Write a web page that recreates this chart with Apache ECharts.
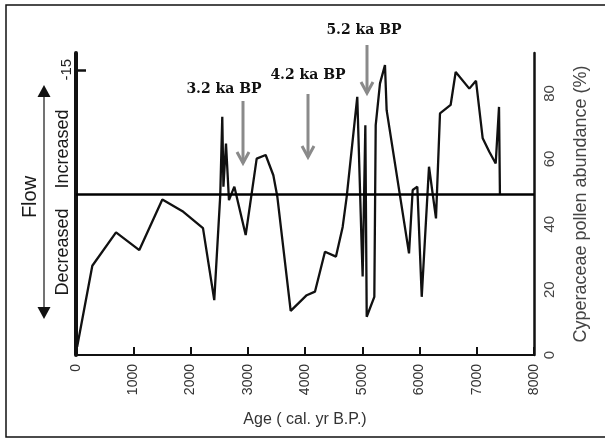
<!DOCTYPE html>
<html>
<head>
<meta charset="utf-8">
<script src="https://cdn.jsdelivr.net/npm/echarts@6/dist/echarts.min.js"></script>
<style>
  html, body { margin: 0; padding: 0; background: #fff; }
  #chart { width: 605px; height: 439px; }
</style>
</head>
<body>
<div id="chart"></div>
<script>
// age (cal. yr B.P.) and Cyperaceae pollen abundance (%)
var ages = [20, 285, 699, 1106, 1508, 1875, 2218, 2415, 2520, 2555, 2575, 2620, 2672, 2766, 2964,
  3156, 3313, 3447, 3517, 3750, 4030, 4175, 4349, 4541, 4658, 4728, 4913, 4990, 5007, 5054,
  5078, 5211, 5235, 5310, 5397, 5426, 5817, 5881, 5962, 6039, 6166, 6288, 6358, 6544, 6632,
  6870, 6987, 7104, 7219, 7331, 7389, 7405];
var pollen = [2.5, 27.3, 37.5, 32.1, 47.6, 43.8, 38.8, 16.8, 49, 72.9, 51.5, 64.7, 47.4, 51.5, 36.7,
  60.1, 61.2, 55, 48.4, 13.5, 18.3, 19.4, 31.6, 30.1, 39.2, 48.4, 79, 33.1, 24, 70.3,
  11.7, 17.8, 70.3, 83.1, 88.7, 74.9, 31.1, 50.5, 51.5, 17.8, 57.6, 41.8, 73.9, 76.5, 86.6,
  81.5, 83.9, 66.3, 62.2, 58.6, 75.9, 49.2];
var baseline = 49.2;
var flowTicks = [-15];
var events = ['3.2 ka BP', '4.2 ka BP', '5.2 ka BP'];

var data = [];
for (var i = 0; i < ages.length; i++) {
  data.push([ages[i], pollen[i]]);
}

// arrow helper for the event markers
function arrow(x, y1, y2) {
  return [
    { type: 'line', shape: { x1: x, y1: y1, x2: x, y2: y2 }, style: { stroke: '#8a8a8a', lineWidth: 3 } },
    { type: 'polyline', shape: { points: [[x - 6, y2 - 11], [x, y2], [x + 6, y2 - 11]] },
      style: { stroke: '#8a8a8a', lineWidth: 3, fill: null } }
  ];
}
function label(txt, x, y) {
  return { type: 'text', x: x, y: y, style: { text: txt, textAlign: 'center', textVerticalAlign: 'middle',
    font: 'bold 14px "DejaVu Serif"', fill: '#111' } };
}
function vtext(txt, x, y, size) {
  return { type: 'text', x: x, y: y, rotation: Math.PI / 2, style: { text: txt, textAlign: 'center',
    textVerticalAlign: 'middle', font: size + 'px "Liberation Sans", Arial', fill: '#1a1a1a' } };
}

var graphics = [
  { type: 'rect', shape: { x: 6, y: 5, width: 600, height: 432 }, style: { stroke: '#111', lineWidth: 1.5, fill: null } },
  label(events[0], 224, 89),
  label(events[1], 308, 75),
  label(events[2], 364, 30),
  vtext('Increased', 63, 149, 18),
  vtext('Decreased', 63, 252, 18),
  vtext('Flow', 30, 197, 20),
  { type: 'line', shape: { x1: 44, y1: 92, x2: 44, y2: 312 }, style: { stroke: '#444', lineWidth: 1.5 } },
  { type: 'polygon', shape: { points: [[44, 85], [37.5, 97], [50.5, 97]] }, style: { fill: '#111' } },
  { type: 'polygon', shape: { points: [[44, 319], [37.5, 307], [50.5, 307]] }, style: { fill: '#111' } }
];
graphics = graphics.concat(arrow(243, 101, 163), arrow(308, 94, 157), arrow(367, 45, 93));

var option = {
  animation: false,
  grid: { left: 76, right: 71, top: 53, bottom: 84 },
  xAxis: {
    type: 'value', min: 0, max: 8000, interval: 1000,
    name: 'Age ( cal. yr B.P.)', nameLocation: 'middle', nameGap: 57,
    nameTextStyle: { fontSize: 16, color: '#333', fontFamily: '"Liberation Sans", Arial' },
    axisLine: { onZero: false, lineStyle: { color: '#111', width: 2 } },
    axisTick: { inside: true, length: 8, lineStyle: { color: '#111', width: 2 } },
    axisLabel: { rotate: 90, fontSize: 14, color: '#333', margin: 9, fontFamily: '"Liberation Sans", Arial',
      formatter: function (v) { return String(v); } },
    splitLine: { show: false }
  },
  yAxis: [
    {
      type: 'value', position: 'left', inverse: true, min: -16, max: 2,
      axisLine: { show: true, onZero: false, lineStyle: { color: '#111', width: 4 } },
      axisTick: { show: true, inside: true, length: 10, customValues: flowTicks, lineStyle: { color: '#111', width: 2.5 } },
      axisLabel: { rotate: 90, fontSize: 15, color: '#222', margin: 2, customValues: flowTicks,
        fontFamily: '"Liberation Sans", Arial' },
      splitLine: { show: false }
    },
    {
      type: 'value', position: 'right', min: 0, max: 92.4, interval: 20,
      name: 'Cyperaceae pollen abundance (%)', nameLocation: 'middle', nameRotate: 90, nameGap: 38,
      nameTextStyle: { fontSize: 18, color: '#444', fontFamily: '"Liberation Sans", Arial' },
      axisLine: { show: true, onZero: false, lineStyle: { color: '#111', width: 2.5 } },
      axisTick: { show: false },
      axisLabel: {
        rotate: 90, fontSize: 15, color: '#444', margin: 8, fontFamily: '"Liberation Sans", Arial',
        formatter: function (v) { return v % 20 === 0 ? String(v) : ''; }
      },
      splitLine: { show: false }
    }
  ],
  series: [{
    type: 'line',
    yAxisIndex: 1,
    data: data,
    symbol: 'none',
    lineStyle: { color: '#111', width: 2.3 },
    markLine: {
      silent: true, symbol: 'none', label: { show: false },
      lineStyle: { color: '#000', width: 2.5, type: 'solid' },
      data: [{ yAxis: baseline }]
    }
  }],
  graphic: graphics
};

var myChart = echarts.init(document.getElementById('chart'));
myChart.setOption(option);
</script>
</body>
</html>
